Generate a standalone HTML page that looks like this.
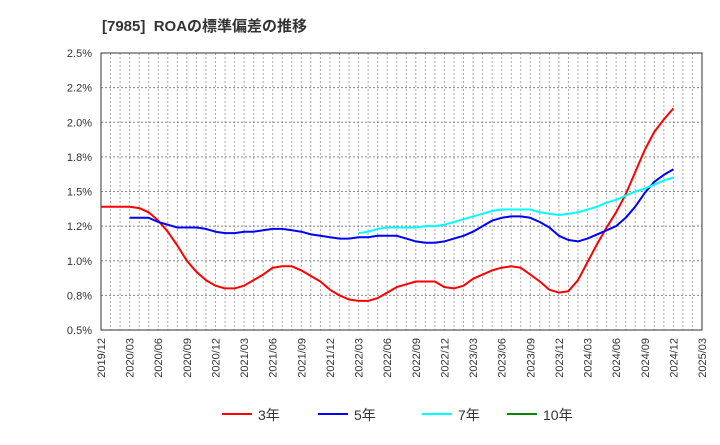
<!DOCTYPE html>
<html><head><meta charset="utf-8"><style>
body{margin:0;background:#fff;}
svg text{font-family:"Liberation Sans","Noto Sans CJK JP",sans-serif;}
</style></head><body>
<svg width="720" height="440">
<text x="102" y="31" font-size="15" font-weight="bold" fill="#333">[7985]&#160;&#160;ROAの標準偏差の推移</text>
<g id="grid"></g><g id="axes"></g><g id="series"></g>
<g>
 <line x1="222" y1="414" x2="252" y2="414" stroke="#f00" stroke-width="2"/><text x="258" y="420" font-size="14" fill="#333">3年</text>
 <line x1="318" y1="414" x2="348" y2="414" stroke="#00f" stroke-width="2"/><text x="354" y="420" font-size="14" fill="#333">5年</text>
 <line x1="422" y1="414" x2="452" y2="414" stroke="#0ff" stroke-width="2"/><text x="458" y="420" font-size="14" fill="#333">7年</text>
 <line x1="507" y1="414" x2="537" y2="414" stroke="#080" stroke-width="2"/><text x="543" y="420" font-size="14" fill="#333">10年</text>
</g>
</svg>
<script>
const yTicks=[0.5,0.75,1.0,1.25,1.5,1.75,2.0,2.25,2.5];
const yTickLabels=["0.5%","0.8%","1.0%","1.2%","1.5%","1.8%","2.0%","2.2%","2.5%"];
const xTickLabels=["2019/12","2020/03","2020/06","2020/09","2020/12","2021/03","2021/06","2021/09","2021/12","2022/03","2022/06","2022/09","2022/12","2023/03","2023/06","2023/09","2023/12","2024/03","2024/06","2024/09","2024/12","2025/03"];
const s3=[1.39,1.39,1.39,1.39,1.38,1.35,1.29,1.21,1.11,1.00,0.92,0.86,0.82,0.80,0.80,0.82,0.86,0.90,0.95,0.96,0.96,0.93,0.89,0.85,0.79,0.75,0.72,0.71,0.71,0.73,0.77,0.81,0.83,0.85,0.85,0.85,0.81,0.80,0.82,0.87,0.90,0.93,0.95,0.96,0.95,0.90,0.85,0.79,0.77,0.78,0.86,0.99,1.12,1.24,1.35,1.48,1.64,1.80,1.93,2.02,2.10];
const s5=[1.31,1.31,1.31,1.28,1.26,1.24,1.24,1.24,1.23,1.21,1.20,1.20,1.21,1.21,1.22,1.23,1.23,1.22,1.21,1.19,1.18,1.17,1.16,1.16,1.17,1.17,1.18,1.18,1.18,1.16,1.14,1.13,1.13,1.14,1.16,1.18,1.21,1.25,1.29,1.31,1.32,1.32,1.31,1.28,1.24,1.18,1.15,1.14,1.16,1.19,1.22,1.25,1.31,1.39,1.49,1.57,1.62,1.66];
const s7=[1.20,1.21,1.23,1.24,1.24,1.24,1.24,1.25,1.25,1.26,1.28,1.30,1.32,1.34,1.36,1.37,1.37,1.37,1.37,1.35,1.34,1.33,1.34,1.35,1.37,1.39,1.42,1.44,1.47,1.50,1.52,1.55,1.58,1.60];
const s10=[];
const X0=101,X1=702,Y0=330,Y1=53,NM=63;
const xs=m=>X0+(X1-X0)*m/NM;
const ys=v=>Y0-(v-0.5)/2.0*(Y0-Y1);
const NS="http://www.w3.org/2000/svg";
function mk(t,a,p){const e=document.createElementNS(NS,t);for(const k in a)e.setAttribute(k,a[k]);p.appendChild(e);return e;}
const g=document.getElementById('grid'),ax=document.getElementById('axes'),se=document.getElementById('series');
for(let m=1;m<NM;m++){const l=mk('line',{x1:xs(m),x2:xs(m),y1:Y1,y2:Y0,stroke:'#aaa','stroke-dasharray':'2,2','stroke-width':1},g);

}
yTicks.forEach((v,i)=>{const y=ys(v);
const l=mk('line',{x1:X0,x2:X1,y1:y,y2:y,stroke:'#888','stroke-dasharray':'2,2','stroke-width':1},g);


const t=mk('text',{x:92,y:y+4,'text-anchor':'end','font-size':11,fill:'#333'},ax);t.textContent=yTickLabels[i];

});
xTickLabels.forEach((s,i)=>{const x=xs(i*3);
const t=mk('text',{transform:`translate(${x+4},338) rotate(-90)`,'text-anchor':'end','font-size':11,fill:'#333'},ax);t.textContent=s;

});
const fr=mk('rect',{x:X0,y:Y1,width:X1-X0,height:Y0-Y1,fill:'none',stroke:'#333','stroke-width':1},ax);


function line(arr,start,col,name){if(!arr.length)return;const p=arr.map((v,i)=>xs(start+i).toFixed(1)+','+ys(v).toFixed(1)).join(' ');
const e=mk('polyline',{points:p,fill:'none',stroke:col,'stroke-width':2,'stroke-linejoin':'round'},se);

}
line(s3,0,'#f00','series-3y');
line(s5,3,'#00f','series-5y');
line(s7,27,'#0ff','series-7y');
line(s10,39,'#080','series-10y');
</script>
</body></html>
